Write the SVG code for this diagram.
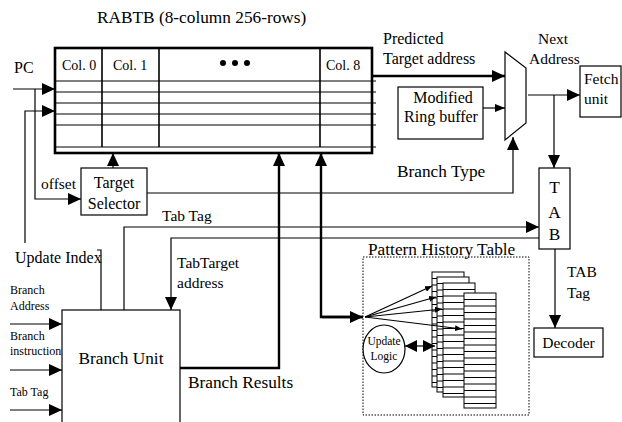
<svg xmlns="http://www.w3.org/2000/svg" width="622" height="422" viewBox="0 0 622 422" font-family="'Liberation Serif', 'Times New Roman', 'DejaVu Serif', serif">
<style>
text{font-family:'Liberation Serif','Times New Roman','DejaVu Serif',serif;fill:#000}
.t16{font-size:16px}.t17{font-size:17.3px}.t15{font-size:15.5px}.t14{font-size:14px}.t12{font-size:12px}.t11{font-size:11.5px}
.thin{fill:none;stroke:#000;stroke-width:1.2}
.thick{fill:none;stroke:#000;stroke-width:2.4}
.box{fill:#fff;stroke:#000;stroke-width:1.2}
.row{stroke:#000;stroke-width:1.1}
.pht{fill:#fff;stroke:#000;stroke-width:1}
</style>
<defs>
<marker id="ah" markerUnits="userSpaceOnUse" markerWidth="13" markerHeight="12" refX="13" refY="6" orient="auto"><path d="M0,0L13,6L0,12z" fill="#000"/></marker>
<marker id="ahm" markerUnits="userSpaceOnUse" markerWidth="10" markerHeight="8" refX="10" refY="4" orient="auto"><path d="M0,0L10,4L0,8z" fill="#000"/></marker>
<marker id="ahs" markerUnits="userSpaceOnUse" markerWidth="7" markerHeight="6" refX="7" refY="3" orient="auto"><path d="M0,0L7,3L0,6z" fill="#000"/></marker>
<marker id="ah12" markerUnits="userSpaceOnUse" markerWidth="12" markerHeight="12" refX="12" refY="6" orient="auto"><path d="M0,0L12,6L0,12z" fill="#000"/></marker>
<marker id="ahr" markerUnits="userSpaceOnUse" markerWidth="12" markerHeight="12" refX="0" refY="6" orient="auto"><path d="M12,0L0,6L12,12z" fill="#000"/></marker>
</defs>

<text class="t17" x="97" y="23">RABTB (8-column 256-rows)</text>

<g id="rabtb">
<rect x="55" y="48" width="317" height="105" fill="#fff" stroke="#000" stroke-width="2.6"/>
<line class="row" x1="55" y1="81" x2="376" y2="81"/>
<line class="row" x1="55" y1="92" x2="376" y2="92"/>
<line class="row" x1="55" y1="103" x2="376" y2="103"/>
<line class="row" x1="55" y1="114" x2="376" y2="114"/>
<line class="row" x1="55" y1="125" x2="376" y2="125"/>
<line class="row" x1="55" y1="147" x2="376" y2="147"/>
<line x1="102" y1="48" x2="102" y2="147" stroke="#000" stroke-width="1.6"/>
<line x1="159" y1="48" x2="159" y2="147" stroke="#000" stroke-width="1.6"/>
<line x1="320" y1="48" x2="320" y2="147" stroke="#000" stroke-width="1.6"/>
<text class="t14" x="62" y="70">Col. 0</text>
<text class="t14" x="113" y="70">Col. 1</text>
<circle cx="223" cy="63" r="3"/><circle cx="235" cy="63" r="3"/><circle cx="247" cy="63" r="3"/>
<text class="t14" x="326" y="70">Col. 8</text>
</g>

<text class="t16" x="14" y="73">PC</text>

<g id="target-selector">
<rect class="box" x="81" y="168" width="66" height="47"/>
<text class="t16" x="114" y="188" text-anchor="middle">Target</text>
<text class="t16" x="114" y="209" text-anchor="middle">Selector</text>
</g>

<g id="mux">
<polygon points="505,52 526,68 526,123 505,140" fill="#fff" stroke="#000" stroke-width="1.2"/>
</g>

<g id="ring-buffer">
<rect class="box" x="398" y="87" width="85" height="52"/>
<text class="t16" x="443" y="103" text-anchor="middle">Modified</text>
<text class="t16" x="441" y="122" text-anchor="middle">Ring buffer</text>
</g>

<g id="fetch-unit">
<rect class="box" x="580" y="66" width="41" height="51"/>
<text class="t15" x="584" y="84">Fetch</text>
<text class="t15" x="584" y="104">unit</text>
</g>

<g id="tab">
<rect class="box" x="539" y="168" width="31" height="81"/>
<text class="t17" x="554.5" y="193" text-anchor="middle">T</text>
<text class="t17" x="554.5" y="218" text-anchor="middle">A</text>
<text class="t17" x="554.5" y="240" text-anchor="middle">B</text>
</g>

<g id="decoder">
<rect class="box" x="534" y="328" width="69" height="29"/>
<text class="t15" x="568.5" y="348" text-anchor="middle">Decoder</text>
</g>

<g id="branch-unit">
<rect class="box" x="62" y="310" width="118" height="125"/>
<text class="t17" x="121" y="364" text-anchor="middle">Branch Unit</text>
</g>

<g id="pht">
<rect x="363" y="257" width="166" height="158" fill="none" stroke="#000" stroke-width="1" stroke-dasharray="1.5,1.5"/>
<text class="t17" x="368" y="255">Pattern History Table</text>
<g id="pht-tables">
<rect class="pht" x="432" y="272" width="32" height="115"/>
<path class="row" stroke-width="0.9" d="M432,278.5h32M432,285h32M432,291.5h32M432,298h32M432,304.5h32M432,311h32M432,317.5h32M432,324h32M432,330.5h32M432,337h32M432,343.5h32M432,350h32M432,356.5h32M432,363h32M432,369.5h32M432,376h32M432,382.5h32"/>
<rect class="pht" x="437" y="277" width="32" height="115"/>
<path class="row" stroke-width="0.9" d="M437,283.5h32M437,290h32M437,296.5h32M437,303h32M437,309.5h32M437,316h32M437,322.5h32M437,329h32M437,335.5h32M437,342h32M437,348.5h32M437,355h32M437,361.5h32M437,368h32M437,374.5h32M437,381h32M437,387.5h32"/>
<rect class="pht" x="443" y="283" width="32" height="114"/>
<path class="row" stroke-width="0.9" d="M443,289.5h32M443,296h32M443,302.5h32M443,309h32M443,315.5h32M443,322h32M443,328.5h32M443,335h32M443,341.5h32M443,348h32M443,354.5h32M443,361h32M443,367.5h32M443,374h32M443,380.5h32M443,387h32M443,393.5h32"/>
<rect class="pht" x="464" y="293" width="32" height="115"/>
<path class="row" stroke-width="0.9" d="M464,299.5h32M464,306h32M464,312.5h32M464,319h32M464,325.5h32M464,332h32M464,338.5h32M464,345h32M464,351.5h32M464,358h32M464,364.5h32M464,371h32M464,377.5h32M464,384h32M464,390.5h32M464,397h32M464,403.5h32"/>
</g>
<g id="update-logic">
<ellipse cx="384" cy="349" rx="21" ry="24" fill="#fff" stroke="#000" stroke-width="1.2"/>
<text class="t11" x="384" y="345" text-anchor="middle">Update</text>
<text class="t11" x="384" y="360" text-anchor="middle">Logic</text>
</g>
</g>

<g id="connectors">
<path class="thin" d="M13,89H55" marker-end="url(#ah)"/>
<path class="thin" d="M35,89V199H81" marker-end="url(#ah)"/>
<path class="thin" d="M25,243V111H55" marker-end="url(#ah)"/>
<path class="thin" d="M101,310V250H97"/>
<path class="thin" d="M113,168V153" marker-end="url(#ah)"/>
<path class="thin" d="M147,193H513V137" marker-end="url(#ah)"/>
<path class="thick" d="M372,76H505" marker-end="url(#ah)"/>
<path class="thin" d="M483,108H505" marker-end="url(#ahm)"/>
<path class="thin" d="M528,95H580" marker-end="url(#ah)"/>
<path class="thin" d="M554,95V168" marker-end="url(#ah)"/>
<path class="thin" d="M124,310V227H539" marker-end="url(#ah)"/>
<path class="thin" d="M539,238H171V310" marker-end="url(#ah)"/>
<path class="thin" d="M555,249V328" marker-end="url(#ah)"/>
<path class="thick" d="M180,368H279V153" marker-end="url(#ah)"/>
<path class="thick" d="M363,317H321V153" marker-end="url(#ah)"/>
<path class="thick" d="M322,317H363" marker-end="url(#ah)"/>
<path class="thin" stroke-width="1" d="M365,317L432,286" marker-end="url(#ahs)"/>
<path class="thin" stroke-width="1" d="M365,317L436,297" marker-end="url(#ahs)"/>
<path class="thin" stroke-width="1" d="M365,317L442,309" marker-end="url(#ahs)"/>
<path class="thin" stroke-width="1" d="M365,317L462,329" marker-end="url(#ahs)"/>
<path class="thin" d="M405,346H435" marker-start="url(#ahr)" marker-end="url(#ah12)"/>
<path class="thin" d="M10,324H62" marker-end="url(#ah)"/>
<path class="thin" d="M10,370H62" marker-end="url(#ah)"/>
<path class="thin" d="M10,410H62" marker-end="url(#ah)"/>
</g>

<text class="t16" x="383" y="44">Predicted</text>
<text class="t16" x="383" y="64">Target address</text>
<text class="t15" x="538" y="44">Next</text>
<text class="t15" x="529" y="64">Address</text>
<text class="t17" x="397" y="177">Branch Type</text>
<text class="t15" x="41" y="189">offset</text>
<text class="t15" x="162" y="221">Tab Tag</text>
<text class="t16" x="15" y="263">Update Index</text>
<text class="t15" x="177" y="268">TabTarget</text>
<text class="t15" x="177" y="288">address</text>
<text class="t15" x="567" y="277">TAB</text>
<text class="t15" x="567" y="298">Tag</text>
<text class="t17" x="188" y="388">Branch Results</text>
<text class="t12" x="10" y="294">Branch</text>
<text class="t12" x="10" y="310">Address</text>
<text class="t12" x="10" y="340">Branch</text>
<text class="t12" x="10" y="355">instruction</text>
<text class="t12" x="10" y="396">Tab Tag</text>
</svg>
